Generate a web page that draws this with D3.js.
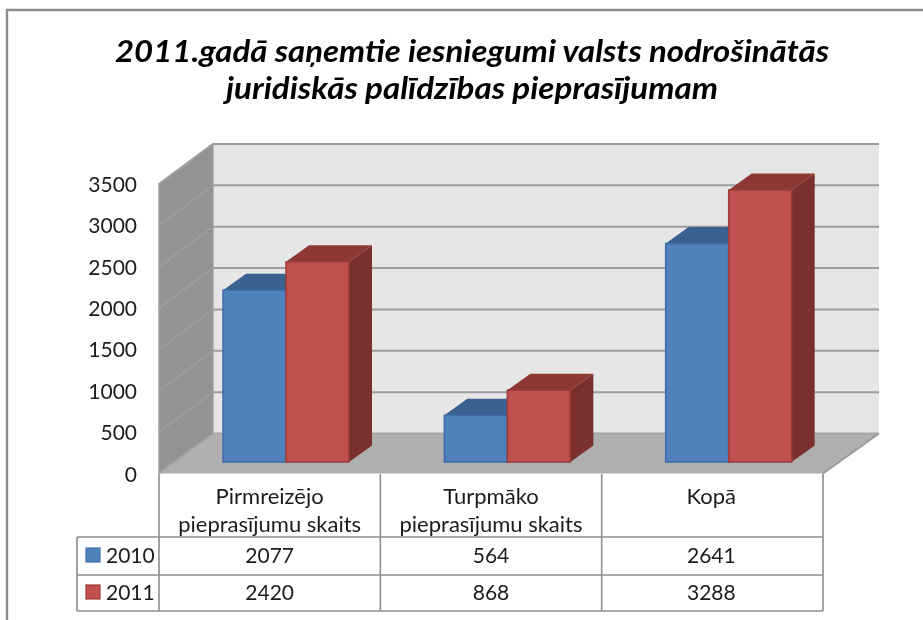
<!DOCTYPE html>
<html><head><meta charset="utf-8">
<script src="https://cdn.jsdelivr.net/npm/d3@7"></script>
<style>html,body{margin:0;padding:0;background:#fff}svg{display:block;filter:blur(0.35px)}text{font-family:Lato,"Open Sans",sans-serif;fill:#1c1c1c}</style>
</head><body><svg id="c" width="923" height="620"></svg>
<script>
const titleLines = ["2011.gadā saņemtie iesniegumi valsts nodrošinātās", "juridiskās palīdzības pieprasījumam"];
const categories = ["Pirmreizējo pieprasījumu skaits", "Turpmāko pieprasījumu skaits", "Kopā"];
const categoryLines = [["Pirmreizējo", "pieprasījumu skaits"], ["Turpmāko", "pieprasījumu skaits"], ["Kopā"]];
const seriesNames = ["2010", "2011"];
const values2010 = [2077, 564, 2641];
const values2011 = [2420, 868, 3288];
const tickValues = [0, 500, 1000, 1500, 2000, 2500, 3000, 3500];
const seriesValues = [values2010, values2011];
const frontColors = ["#4f81bd", "#c0504d"];
const topColors = ["#3a6290", "#8e3836"];
const sideColors = ["#2f5078", "#7b302e"];
const edgeColors = ["#3f6ea6", "#9a3b38"];

const svg = d3.select("#c");
const L = 159, R = 823, DX = 54, DY = 40;
const y = d3.scaleLinear().domain([0, 3500]).range([473.5, 184]);
const x = d3.scaleBand().domain(categories).range([L, R]);
const inner = d3.scaleBand().domain(seriesNames).range([64, 190]);
const poly = p => p.map(q => q.join(",")).join(" ");

// frame
svg.append("path").attr("d", "M7,620V10H923").attr("fill", "none").attr("stroke", "#8c8c8c").attr("stroke-width", 2.4);

// title
svg.append("g").selectAll("text").data(titleLines).join("text")
  .attr("x", (d, i) => i ? 472 : 472).attr("y", (d, i) => 62 + i * 37)
  .attr("text-anchor", "middle").attr("font-size", 31).attr("font-weight", 700).attr("font-style", "italic")
  .attr("textLength", (d, i) => i ? 492 : 714).attr("lengthAdjust", "spacingAndGlyphs")
  .style("fill", "#000").text(d => d);

// walls + floor
svg.append("polygon").attr("points", poly([[L + DX, y(3500) - DY], [R + 56, y(3500) - DY], [R + 56, y(0) - DY], [L + DX, y(0) - DY]])).attr("fill", "#e6e6e6");
svg.append("polygon").attr("points", poly([[L, y(0)], [L, y(3500)], [L + DX, y(3500) - DY], [L + DX, y(0) - DY]])).attr("fill", "#939393");
svg.append("polygon").attr("points", poly([[L, y(0)], [L + DX, y(0) - DY], [R + 56, y(0) - DY], [R, y(0)]])).attr("fill", "#afafaf");

// gridlines
const grid = svg.append("g").attr("fill", "none").attr("stroke-width", 2);
grid.selectAll("polyline").data(tickValues).join("polyline")
  .attr("points", d => poly([[L, y(d)], [L + DX, y(d) - DY], [R + 56, y(d) - DY]]))
  .attr("stroke", d => d === 0 ? "#a6a6a6" : "#9c9c9c");
svg.append("line").attr("x1", L + DX).attr("x2", L + DX).attr("y1", y(3500) - DY).attr("y2", y(0) - DY).attr("stroke", "#a0a0a0").attr("stroke-width", 1.5);
svg.append("polyline").attr("points", poly([[L, y(0)], [L, y(3500)], [L + DX, y(3500) - DY]])).attr("fill", "none").attr("stroke", "#a0a0a0").attr("stroke-width", 1.5);
svg.append("line").attr("x1", R).attr("x2", R + 56).attr("y1", y(0)).attr("y2", y(0) - DY).attr("stroke", "#999").attr("stroke-width", 2);

// bars
const bw = inner.bandwidth(), bdx = 23, bdy = 16.5, lift = 11.5;
const bars = svg.append("g");
categories.forEach((c, ci) => {
  seriesNames.forEach((s, si) => {
    const v = seriesValues[si][ci];
    const x0 = x(c) + inner(s), x1 = x0 + bw, yb = y(0) - lift, yt = y(v) - lift;
    const g = bars.append("g");
    g.append("polygon").attr("points", poly([[x1, yt], [x1 + bdx, yt - bdy], [x1 + bdx, yb - bdy], [x1, yb]])).attr("fill", sideColors[si]);
    g.append("polygon").attr("points", poly([[x0, yt], [x0 + bdx, yt - bdy], [x1 + bdx, yt - bdy], [x1, yt]])).attr("fill", topColors[si]);
    g.append("rect").attr("x", x0).attr("y", yt).attr("width", bw).attr("height", yb - yt)
      .attr("fill", frontColors[si]).attr("stroke", edgeColors[si]).attr("stroke-width", 1.5);
  });
});

// value axis
const axis = svg.append("g").attr("transform", "translate(137,0)")
  .call(d3.axisLeft(y).tickValues(tickValues).tickSize(0).tickPadding(0).tickFormat(d3.format("d")));
axis.select(".domain").remove();
axis.selectAll("text").attr("font-size", 21).attr("dy", "0.36em");

// data table
const rowY = [474, 537, 575, 611], tableLeft = 77;
const table = svg.append("g").attr("fill", "none").attr("stroke", "#8c8c8c").attr("stroke-width", 1.6);
const colX = categories.map(c => x(c)).concat([R]);
colX.forEach(cx => table.append("line").attr("x1", cx).attr("x2", cx).attr("y1", rowY[0]).attr("y2", rowY[3]));
rowY.slice(1).forEach(ry => table.append("line").attr("x1", tableLeft).attr("x2", R).attr("y1", ry).attr("y2", ry));
table.append("line").attr("x1", tableLeft).attr("x2", tableLeft).attr("y1", rowY[1]).attr("y2", rowY[3]);

categories.forEach((c, ci) => {
  const cx = x(c) + x.bandwidth() / 2 + (ci === 2 ? -1 : 0);
  svg.append("g").selectAll("text").data(categoryLines[ci]).join("text")
    .attr("x", cx).attr("y", (d, i) => 504 + i * 28).attr("text-anchor", "middle").attr("font-size", 22).text(d => d);
  seriesNames.forEach((s, si) => {
    svg.append("text").attr("x", cx).attr("y", rowY[si + 1] + 26 - si).attr("text-anchor", "middle").attr("font-size", 21).text(seriesValues[si][ci]);
  });
});
seriesNames.forEach((s, si) => {
  const ry = rowY[si + 1];
  svg.append("rect").attr("x", 86).attr("y", ry + 11 - si).attr("width", 14).attr("height", 14)
    .attr("fill", frontColors[si]).attr("stroke", edgeColors[si]).attr("stroke-width", 1.2);
  svg.append("text").attr("x", 106).attr("y", ry + 26 - si).attr("font-size", 21).text(s);
});
</script></body></html>
